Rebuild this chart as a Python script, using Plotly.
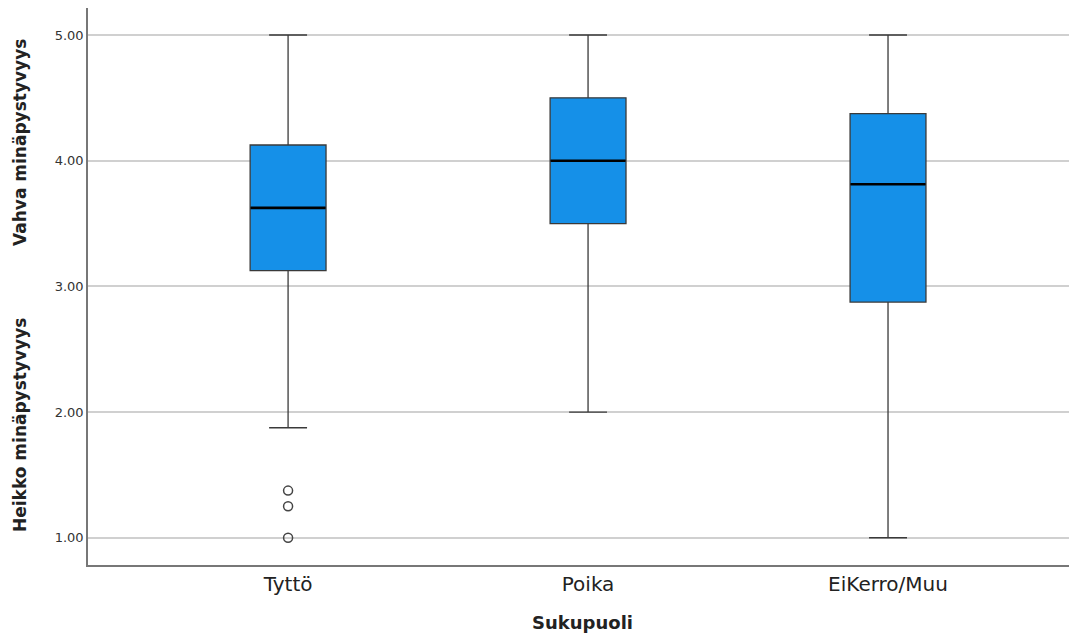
import plotly.graph_objects as go

categories = ["Tyttö", "Poika", "EiKerro/Muu"]
q1 = [3.125, 3.5, 2.875]
median = [3.625, 4.0, 3.8125]
q3 = [4.125, 4.5, 4.375]
lower = [1.875, 2.0, 1.0]
upper = [5.0, 5.0, 5.0]
outlier_cat = ["Tyttö", "Tyttö", "Tyttö"]
outlier_val = [1.375, 1.25, 1.0]
tick_vals = [1, 2, 3, 4, 5]
tick_text = ["1.00", "2.00", "3.00", "4.00", "5.00"]

# page body has an 8px margin; compensate so the plot lands where the reference has it
W, H = 1069, 631
ML, MR, MT, MB = 80, 0, 0, 74
plot_w = W - ML - MR
plot_h = H - MT - MB

def px_to_paper(px, py):
    # px, py are screen coordinates in the 1077x639 window
    return (px - 8 - ML) / plot_w, 1 - (py - 8 - MT) / plot_h

fig = go.Figure()
fig.add_trace(go.Box(
    x=categories, q1=q1, median=median, q3=q3,
    lowerfence=lower, upperfence=upper,
    fillcolor="#1590E8", line=dict(color="#3a3a3a", width=1.3),
    width=0.253, whiskerwidth=0.5, boxpoints=False, showlegend=False,
    hoverinfo="skip",
))
# thicker black median line
fig.add_trace(go.Scatter(
    x=categories, y=median, mode="markers",
    marker=dict(symbol="line-ew-open", size=53.5, color="black", line=dict(width=2.6, color="black")),
    showlegend=False, hoverinfo="skip",
))
fig.add_trace(go.Scatter(
    x=outlier_cat, y=outlier_val, mode="markers",
    marker=dict(symbol="circle-open", size=9, color="#444444", line=dict(width=1.5)),
    showlegend=False,
))

font = "DejaVu Sans"
ax1 = px_to_paper(20, 143)
ax2 = px_to_paper(20, 425)
fig.update_layout(
    width=W, height=H,
    margin=dict(l=ML, r=MR, t=MT, b=MB, pad=0),
    paper_bgcolor="white", plot_bgcolor="white",
    font=dict(family=font, color="#222222"),
    xaxis=dict(
        type="category", categoryorder="array", categoryarray=categories,
        range=[-0.667, 2.63], showgrid=False, showline=True,
        linecolor="#777777", linewidth=1.5, ticks="",
        tickfont=dict(size=20, family=font, color="#222222"),
        title=dict(text="<b>Sukupuoli</b>", font=dict(size=18, family=font), standoff=22),
    ),
    yaxis=dict(
        range=[0.783, 5.215], tickvals=tick_vals, ticktext=tick_text,
        showgrid=True, gridcolor="#D0D0D0", gridwidth=1.5,
        showline=True, linecolor="#777777", linewidth=1.5, ticks="",
        tickfont=dict(size=13, family=font, color="#333333"),
        zeroline=False,
    ),
    annotations=[
        dict(text="<b>Vahva minäpystyvyys</b>", x=ax1[0], y=ax1[1], xref="paper", yref="paper",
             xanchor="center", yanchor="middle",
             showarrow=False, textangle=-90, font=dict(size=17, family=font)),
        dict(text="<b>Heikko minäpystyvyys</b>", x=ax2[0], y=ax2[1], xref="paper", yref="paper",
             xanchor="center", yanchor="middle",
             showarrow=False, textangle=-90, font=dict(size=17, family=font)),
    ],
)

fig.write_html("out.html")
